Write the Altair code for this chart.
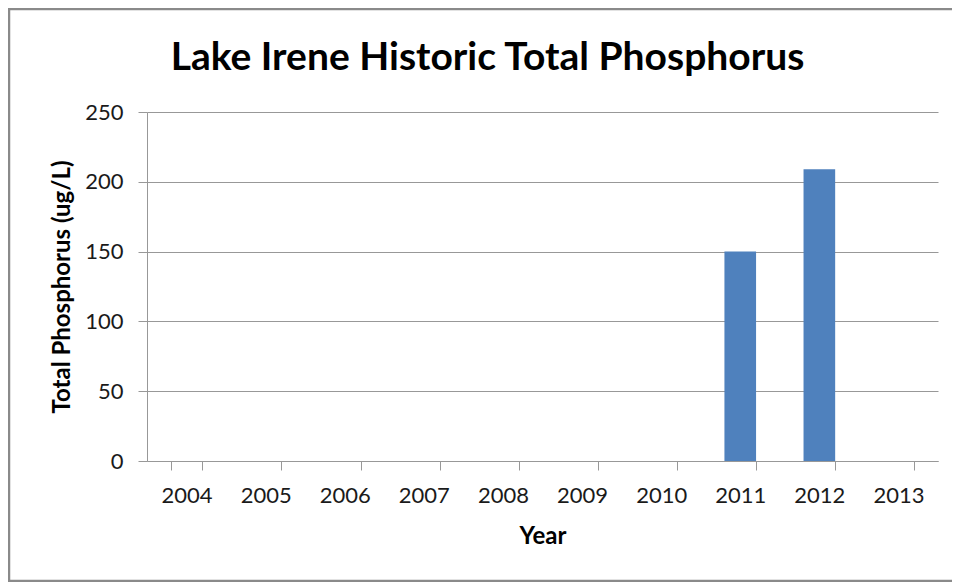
import altair as alt
import pandas as pd

years = ["2004", "2005", "2006", "2007", "2008", "2009", "2010", "2011", "2012", "2013"]
total_phosphorus = [None, None, None, None, None, None, None, 150, 209, None]

df = pd.DataFrame({"Year": years, "TP": total_phosphorus})

FONT = "Lato"
GRAY = "#989898"

bars = alt.Chart(df).mark_bar(color="#4F81BD").encode(
    x=alt.X("Year:N", sort=years,
            scale=alt.Scale(domain=years, paddingInner=0.6, paddingOuter=0.3),
            axis=alt.Axis(title="Year", labelAngle=0, tickBand="extent",
                          tickSize=9, labelPadding=15, titlePadding=18,
                          domainColor=GRAY, tickColor=GRAY, grid=False)),
    y=alt.Y("TP:Q", scale=alt.Scale(domain=[0, 250]),
            axis=alt.Axis(title="Total Phosphorus (ug/L)", values=[0, 50, 100, 150, 200, 250],
                          tickSize=9, labelPadding=15, titlePadding=10,
                          domainColor=GRAY, tickColor=GRAY, gridColor=GRAY)),
)

border = alt.Chart(alt.Data(values=[{"a": 1}])).mark_rect(
    fill=None, stroke="#8a8a8a", strokeWidth=2.5
).encode(
    x=alt.value(-138), x2=alt.value(818), y=alt.value(-103), y2=alt.value(469)
)

chart = alt.layer(border, bars).properties(
    width=791, height=349,
    autosize=alt.AutoSizeParams(type="none"),
    padding={"left": 139, "top": 104, "right": 14, "bottom": 121},
    title=alt.TitleParams("Lake Irene Historic Total Phosphorus", fontSize=39,
                          font=FONT, fontWeight="bold", color="#000000",
                          anchor="middle", dx=-55, dy=100, offset=30),
).configure_axis(
    labelFont=FONT, titleFont=FONT, labelFontSize=22, titleFontSize=24,
    labelColor="#1a1a1a", titleColor="#000000", titleFontWeight="bold",
    gridWidth=1, domainWidth=1, tickWidth=1,
).configure_view(stroke=None)

chart.save("out.html", embed_options={"renderer": "svg", "actions": False})
